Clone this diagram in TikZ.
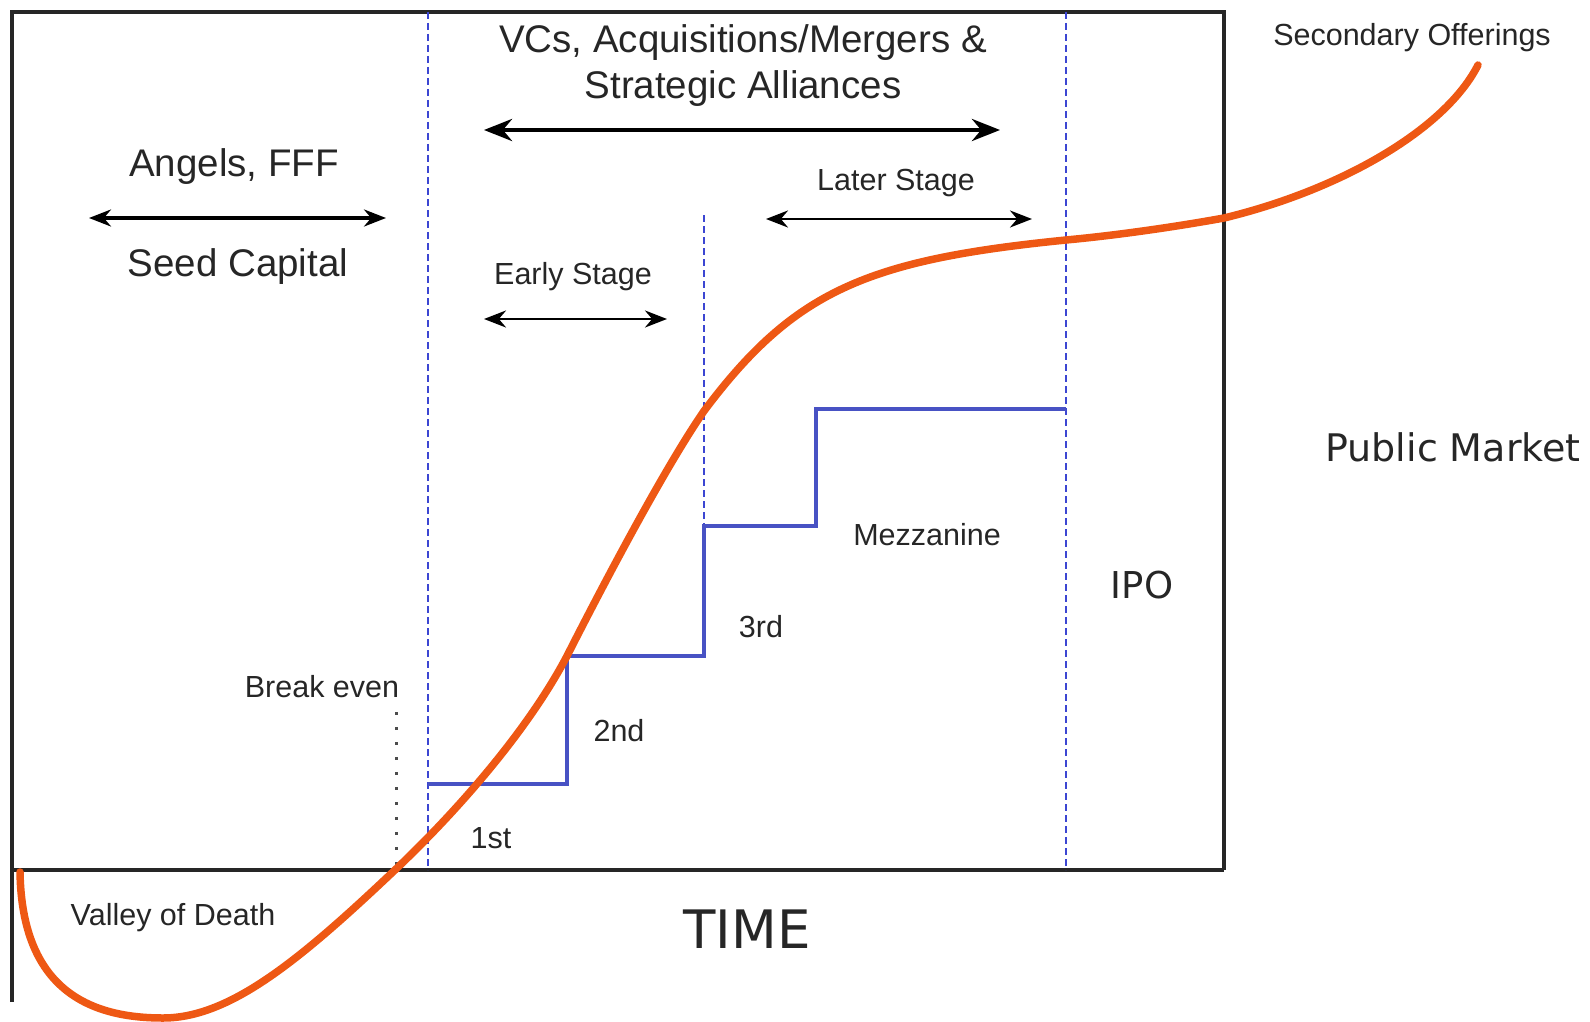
\documentclass[tikz,border=0pt]{standalone}
\usepackage{fontspec}
\setmainfont{Liberation Sans}
\newfontfamily\dejavu{DejaVu Sans}
\usetikzlibrary{arrows.meta}
\definecolor{curveorange}{RGB}{238,88,20}
\definecolor{stepblue}{RGB}{72,82,196}
\definecolor{lineblue}{RGB}{60,70,210}
\begin{document}
\begin{tikzpicture}[x=1pt,y=-1pt,
    frame/.style={line width=3.6pt,black!85},
    phase/.style={lineblue,line width=2.4pt,dash pattern=on 7pt off 4pt},
    stairs/.style={stepblue,line width=3.2pt},
    bigspan/.style={line width=4.5pt,{Stealth[length=28pt,width=22pt]}-{Stealth[length=28pt,width=22pt]}},
    span/.style={line width=3.4pt,{Stealth[length=22pt,width=17pt]}-{Stealth[length=22pt,width=17pt]}},
    lbl/.style={anchor=base,inner sep=0pt,text=black!85,font=\fontsize{30.5}{36}\selectfont},
    biglbl/.style={anchor=base,inner sep=0pt,text=black!85,font=\fontsize{38.5}{46}\selectfont},
    widelbl/.style={anchor=base,inner sep=0pt,text=black!85,font=\dejavu\fontsize{38}{46}\selectfont}]
  \useasboundingbox (0,0) rectangle (1590,1022);
  % frame and axis
  \draw[frame] (12,1002) -- (12,12) -- (1224,12) -- (1224,870);
  \draw[frame] (12,870) -- (1224,870);
  % phase borders
  \draw[phase] (428,12) -- (428,870);
  \draw[phase] (1066,12) -- (1066,870);
  \draw[phase] (704,215) -- (704,526);
  \draw[black!70,line width=3pt,dash pattern=on 3pt off 12pt] (396,712) -- (396,868);
  % funding rounds
  \draw[stairs] (428,784) -| (567,656) -| (704,526) -| (816,409) -- (1066,409);
  % the curve
  \draw[curveorange,line width=7.5pt,line cap=round]
    (20,872) .. controls (22,990) and (90,1018) .. (163,1018)
    .. controls (230,1018) and (300,960) .. (396,869)
    .. controls (456,812) and (527,732) .. (567,656)
    .. controls (602,587) and (664,469) .. (704,411)
    .. controls (794,291) and (866,260) .. (1066,240)
    .. controls (1120,235) and (1180,226) .. (1224,218)
    .. controls (1340,190) and (1445,130) .. (1478,65);
  % spans
  \coordinate (vcL) at (484,130);
  \coordinate (vcR) at (1000,130);
  \coordinate (seedL) at (89,218);
  \coordinate (seedR) at (386,218);
  \coordinate (earlyL) at (484,319);
  \coordinate (earlyR) at (667,319);
  \coordinate (laterL) at (766,219);
  \coordinate (laterR) at (1032,219);
  \draw[bigspan] (vcL) -- (vcR);
  \draw[span] (seedL) -- (seedR);
  \draw[span,line width=2.8pt] (earlyL) -- (earlyR);
  \draw[span,line width=2.8pt] (laterL) -- (laterR);
  % labels
  \node[biglbl] (vcsA) at (743,53) {VCs, Acquisitions/Mergers \&};
  \node[biglbl] (vcsB) at (743,99) {Strategic Alliances};
  \node[biglbl] (angels) at (234,176) {Angels, FFF};
  \node[biglbl] (seed) at (238,276) {Seed Capital};
  \node[lbl] (later) at (896,190) {Later Stage};
  \node[lbl] (early) at (573,284) {Early Stage};
  \node[lbl] (second) at (1412,46) {Secondary Offerings};
  \node[widelbl] (public) at (1453,461) {Public Market};
  \node[lbl] (mezz) at (927,545) {Mezzanine};
  \node[widelbl,font=\dejavu\fontsize{37}{44}\selectfont] (ipo) at (1142,598) {IPO};
  \node[lbl] (third) at (761,637) {3rd};
  \node[lbl] (breakeven) at (322,697) {Break even};
  \node[lbl] (secondr) at (619,741) {2nd};
  \node[lbl] (first) at (491,848) {1st};
  \node[lbl] (valley) at (173,925) {Valley of Death};
  \node[widelbl,font=\dejavu\fontsize{53}{60}\selectfont] (time) at (747,948) {TIME};
\end{tikzpicture}
\end{document}
